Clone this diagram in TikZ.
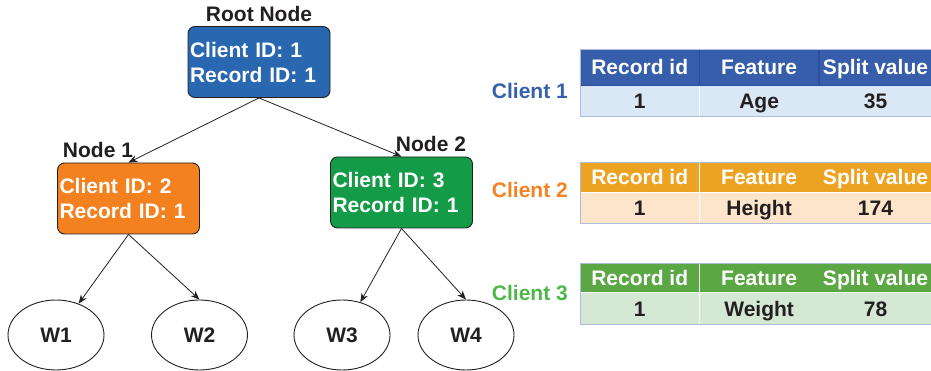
\documentclass[tikz,border=0pt]{standalone}
\usepackage{fontspec}
\setmainfont{Liberation Sans}
\usepackage{xcolor}
\usetikzlibrary{arrows.meta,positioning,shapes.geometric}
\definecolor{inkdark}{HTML}{231F20}
\definecolor{rootblue}{HTML}{2A67B1}
\definecolor{nodeorange}{HTML}{F4811F}
\definecolor{nodegreen}{HTML}{149B48}
\definecolor{headblue}{HTML}{365EAB}
\definecolor{rowblue}{HTML}{DAE8F5}
\definecolor{lineblue}{HTML}{2C4F9A}
\definecolor{headorange}{HTML}{EDA322}
\definecolor{roworange}{HTML}{FDE5CB}
\definecolor{headgreen}{HTML}{5BA744}
\definecolor{rowgreen}{HTML}{D5E8D4}
\definecolor{framegray}{HTML}{B0BCDC}
\definecolor{clientblue}{HTML}{3560AC}
\definecolor{clientorange}{HTML}{F58220}
\definecolor{clientgreen}{HTML}{4DB848}
\def\diagfont{\bfseries\fontsize{21}{25}\selectfont}
\tikzset{
    %Define style for tree boxes
    treebox/.style={
           rectangle,
           rounded corners=7pt,
           draw=inkdark, line width=0.9pt,
           minimum height=71pt,
           minimum width=142pt,
           text width=138pt,
           inner sep=2pt,
           align=left,
           text=white,
           font=\diagfont},
    treelabel/.style={
           inner sep=0pt,
           text=inkdark,
           font=\diagfont},
    leafnode/.style={
           ellipse,
           draw=inkdark, line width=0.9pt,
           minimum height=70pt,
           minimum width=96pt,
           inner sep=0pt,
           text=inkdark,
           font=\diagfont},
    treearrow/.style={
           draw=inkdark, line width=0.8pt,
           -{Stealth[length=9pt,width=7pt]}},
    %Define style for table cells
    headcell/.style={
           rectangle,
           inner sep=0pt,
           text height=15pt,
           text depth=0pt,
           minimum width=119pt,
           text=white,
           font=\diagfont},
    datacell/.style={
           headcell,
           minimum height=31pt,
           text=inkdark},
    clientlabel/.style={
           anchor=east,
           inner sep=0pt,
           font=\diagfont},
    tableframe/.style={
           draw=framegray, line width=0.8pt}
}

\begin{document}
\begin{tikzpicture}[x=1pt, y=-1pt]
\useasboundingbox (0,0) rectangle (931,371);
% tree
\node[treebox, fill=rootblue] (root) at (259,62) {Client ID: 1\\Record ID: 1};
\node[treelabel] (rootlabel) at (259,14) {Root Node};
\node[treebox, fill=nodeorange] (node1) at (128.5,198.5) {Client ID: 2\\Record ID: 1};
\node[treelabel] (node1label) at (98,150) {Node 1};
\node[treebox, fill=nodegreen] (node2) at (401.5,192.5) {Client ID: 3\\Record ID: 1};
\node[treelabel] (node2label) at (431,144) {Node 2};
\node[leafnode] (w1) at (56,335) {W1};
\node[leafnode] (w2) at (199.5,335) {W2};
\node[leafnode] (w3) at (342,335) {W3};
\node[leafnode] (w4) at (466,335) {W4};
\path[treearrow] (root.south) -- (node1.north);
\path[treearrow] (root.south) -- (node2.north);
\path[treearrow] (node1.south) -- (w1);
\path[treearrow] (node1.south) -- (w2.north);
\path[treearrow] (node2.south) -- (w3);
\path[treearrow] (node2.south) -- (w4.north);
% client 1 table
\node[headcell, fill=headblue, draw=lineblue, minimum height=36pt, anchor=north west] (t1h1) at (580,49) {Record id};
\node[headcell, fill=headblue, draw=lineblue, minimum height=36pt, anchor=west] (t1h2) at (t1h1.east) {Feature};
\node[headcell, fill=headblue, draw=lineblue, minimum height=36pt, minimum width=113pt, anchor=west] (t1h3) at (t1h2.east) {Split value};
\node[datacell, fill=rowblue, anchor=north west] (t1d1) at (t1h1.south west) {1};
\node[datacell, fill=rowblue, anchor=west] (t1d2) at (t1d1.east) {Age};
\node[datacell, fill=rowblue, minimum width=113pt, anchor=west] (t1d3) at (t1d2.east) {35};
\draw[tableframe] (t1h1.north west) rectangle (t1d3.south east);
\node[clientlabel, text=clientblue] (client1) at (568,91) {Client 1};
% client 2 table
\node[headcell, fill=headorange, minimum height=30pt, anchor=north west] (t2h1) at (580,162) {Record id};
\node[headcell, fill=headorange, minimum height=30pt, anchor=west] (t2h2) at (t2h1.east) {Feature};
\node[headcell, fill=headorange, minimum height=30pt, minimum width=113pt, anchor=west] (t2h3) at (t2h2.east) {Split value};
\node[datacell, fill=roworange, anchor=north west] (t2d1) at (t2h1.south west) {1};
\node[datacell, fill=roworange, anchor=west] (t2d2) at (t2d1.east) {Height};
\node[datacell, fill=roworange, minimum width=113pt, anchor=west] (t2d3) at (t2d2.east) {174};
\draw[tableframe] (t2h1.north west) rectangle (t2d3.south east);
\node[clientlabel, text=clientorange] (client2) at (568,190) {Client 2};
% client 3 table
\node[headcell, fill=headgreen, minimum height=29pt, anchor=north west] (t3h1) at (580,263) {Record id};
\node[headcell, fill=headgreen, minimum height=29pt, anchor=west] (t3h2) at (t3h1.east) {Feature};
\node[headcell, fill=headgreen, minimum height=29pt, minimum width=113pt, anchor=west] (t3h3) at (t3h2.east) {Split value};
\node[datacell, fill=rowgreen, minimum height=32pt, anchor=north west] (t3d1) at (t3h1.south west) {1};
\node[datacell, fill=rowgreen, minimum height=32pt, anchor=west] (t3d2) at (t3d1.east) {Weight};
\node[datacell, fill=rowgreen, minimum height=32pt, minimum width=113pt, anchor=west] (t3d3) at (t3d2.east) {78};
\draw[tableframe] (t3h1.north west) rectangle (t3d3.south east);
\node[clientlabel, text=clientgreen] (client3) at (568,293) {Client 3};
\end{tikzpicture}
\end{document}
